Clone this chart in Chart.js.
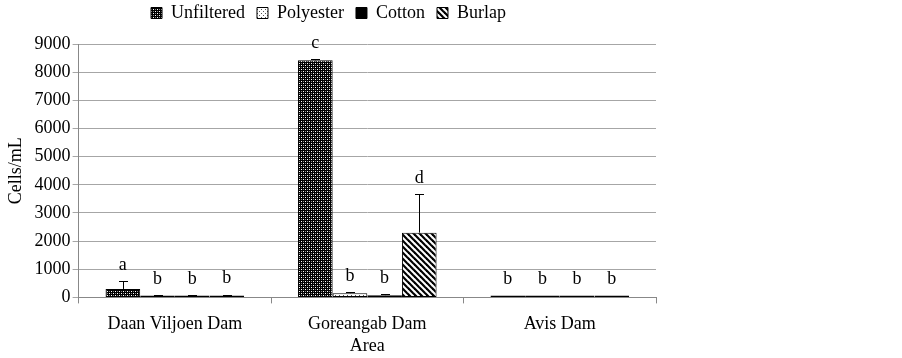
<!DOCTYPE html>
<html>
<head>
<meta charset="utf-8">
<script src="https://cdn.jsdelivr.net/npm/chart.js@4"></script>
<style>
html,body{margin:0;padding:0;background:#fff;}
#wrap{width:902px;height:358px;}
</style>
</head>
<body>
<div id="wrap"><canvas id="c" width="902" height="358"></canvas></div>
<script>
const categories = ["Daan Viljoen Dam", "Goreangab Dam", "Avis Dam"];
const seriesNames = ["Unfiltered", "Polyester", "Cotton", "Burlap"];
const unfiltered = [300, 8420, 5];
const polyester = [20, 150, 5];
const cotton = [20, 80, 5];
const burlap = [40, 2300, 5];
const unfilteredErr = [290, 40, 0];
const polyesterErr = [10, 40, 0];
const cottonErr = [10, 40, 0];
const burlapErr = [60, 1380, 0];
const unfilteredLetters = ["a", "c", "b"];
const polyesterLetters = ["b", "b", "b"];
const cottonLetters = ["b", "b", "b"];
const burlapLetters = ["b", "d", "b"];
const yTicks = [0,1000,2000,3000,4000,5000,6000,7000,8000,9000];

const FONT = "'Liberation Serif', 'Times New Roman', serif";
const FS = 18;

function makePattern(kind){
  const c = document.createElement('canvas');
  const ctx = c.getContext('2d');
  if(kind==='unf'){
    c.width=4;c.height=4;
    ctx.fillStyle='#000';ctx.fillRect(0,0,4,4);
    ctx.fillStyle='#fff';ctx.fillRect(1,1,1,1);ctx.fillRect(3,3,1,1);
    ctx.fillStyle='#888';ctx.fillRect(3,1,1,1);ctx.fillRect(1,3,1,1);
  } else if(kind==='poly'){
    c.width=4;c.height=4;
    ctx.fillStyle='#fff';ctx.fillRect(0,0,4,4);
    ctx.fillStyle='#555';ctx.fillRect(1,1,1,1);ctx.fillRect(3,3,1,1);
  } else if(kind==='burlap'){
    c.width=6;c.height=6;
    ctx.fillStyle='#fff';ctx.fillRect(0,0,6,6);
    ctx.strokeStyle='#000';ctx.lineWidth=2.2;
    for(let k=-2;k<=2;k++){
      ctx.beginPath();ctx.moveTo(k*6-1,-1);ctx.lineTo(k*6+7,7);ctx.stroke();
    }
  }
  return document.createElement('canvas').getContext('2d').createPattern(c,'repeat');
}

const errs = [unfilteredErr, polyesterErr, cottonErr, burlapErr];
const letters = [unfilteredLetters, polyesterLetters, cottonLetters, burlapLetters];

const errPlugin = {
  id:'errbars',
  afterInit(chart){
    const lg = chart.legend;
    if(lg && !lg._patched){
      const orig = lg.fit;
      lg.fit = function(){ orig.call(this); this.height += 12; };
      lg._patched = true;
    }
  },
  afterDatasetsDraw(chart){
    const ctx = chart.ctx;
    const y = chart.scales.y;
    chart.data.datasets.forEach((ds, di)=>{
      const meta = chart.getDatasetMeta(di);
      meta.data.forEach((bar, i)=>{
        const v = ds.data[i];
        const e = errs[di][i];
        const yTop = Math.min(y.getPixelForValue(v + e), bar.y);
        const yV = bar.y;
        ctx.save();
        ctx.strokeStyle='#000';ctx.lineWidth=1;
        if(e>0){
          ctx.beginPath();
          ctx.moveTo(Math.round(bar.x)+0.5, yV);
          ctx.lineTo(Math.round(bar.x)+0.5, Math.round(yTop)+0.5);
          ctx.moveTo(Math.round(bar.x)-4, Math.round(yTop)+0.5);
          ctx.lineTo(Math.round(bar.x)+5, Math.round(yTop)+0.5);
          ctx.stroke();
        }
        ctx.fillStyle='#000';
        ctx.font = FS + "px " + FONT;
        ctx.textAlign='center';ctx.textBaseline='bottom';
        ctx.fillText(letters[di][i], bar.x, yTop - 7);
        ctx.restore();
      });
    });
  }
};

const patterns = [makePattern('unf'), makePattern('poly'), '#000', makePattern('burlap')];
const values = [unfiltered, polyester, cotton, burlap];

new Chart(document.getElementById('c'), {
  type:'bar',
  data:{
    labels: categories,
    datasets: seriesNames.map((n, i)=>({
      label:n,
      data: values[i],
      backgroundColor: patterns[i],
      borderColor:'#000',
      borderWidth:1,
      borderSkipped:false,
      minBarLength:2,
      categoryPercentage:0.72,
      barPercentage:1.0
    }))
  },
  options:{
    responsive:false,
    animation:false,
    devicePixelRatio:1,
    layout:{padding:{left:1,right:246,top:-8,bottom:3}},
    plugins:{
      legend:{
        position:'top',
        labels:{
          font:{family:FONT,size:FS},
          color:'#000',
          boxWidth:11,boxHeight:11,
          padding:12
        }
      },
      tooltip:{enabled:false}
    },
    scales:{
      x:{
        grid:{display:true,drawOnChartArea:false,offset:true,color:'#888',tickLength:6},
        border:{color:'#888'},
        ticks:{font:{family:FONT,size:FS},color:'#000',padding:10},
        title:{display:true,text:'Area',font:{family:FONT,size:FS,lineHeight:1},color:'#000',padding:{top:-8,bottom:0}}
      },
      y:{
        min:0,max:9000,
        afterBuildTicks(axis){ axis.ticks = yTicks.map(v=>({value:v})); },
        grid:{color:'#a6a6a6',tickLength:6},
        border:{color:'#888'},
        ticks:{font:{family:FONT,size:FS},color:'#000',padding:2,callback:(v)=>String(v)},
        title:{display:true,text:'Cells/mL',font:{family:FONT,size:FS},color:'#000',padding:{bottom:6}}
      }
    }
  },
  plugins:[errPlugin]
});
</script>
</body>
</html>
